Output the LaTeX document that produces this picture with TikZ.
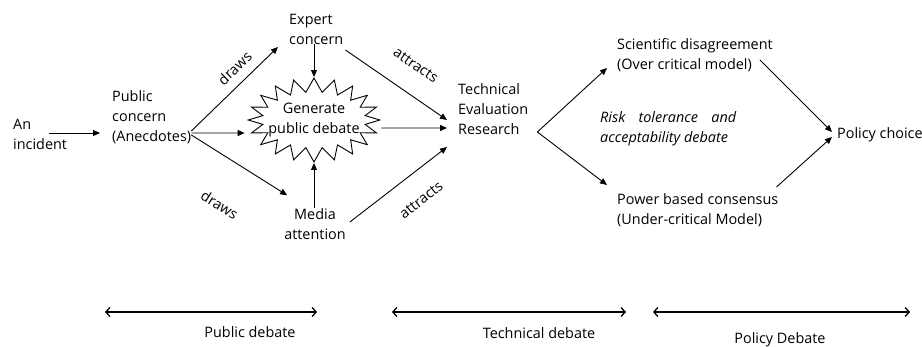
\documentclass[tikz,border=0pt]{standalone}
\usepackage{fontspec}
\setmainfont{Open Sans}
\usetikzlibrary{arrows.meta,positioning,shapes.symbols}

\begin{document}
\begin{tikzpicture}[
  x=1pt, y=-1pt,
  txt/.style={inner sep=0pt, font=\fontsize{14.4}{20}\selectfont, align=left, anchor=west},
  lbl/.style={inner sep=0pt, font=\fontsize{14.4}{20}\selectfont, sloped},
  arr/.style={-{Triangle[length=7pt,width=6pt]}, line width=0.9pt},
  span/.style={{Straight Barb[length=4pt,width=9pt]}-{Straight Barb[length=4pt,width=9pt]}, line width=1.3pt}
]
\useasboundingbox (0,0) rectangle (922,347);
\node[txt] (inc) at (13,134) {An\\incident};
\node[txt] (pubc) at (112,117) {Public\\concern\\(Anecdotes)};
\node[txt] (expc) at (289,29) {Expert\\concern};
\node[starburst, draw, line width=0.9pt, starburst points=20, starburst point height=14pt,
      random starburst=0, minimum height=84pt, inner xsep=-9pt, inner ysep=0pt,
      font=\fontsize{14.4}{20}\selectfont, align=center] (burst) at (314,120) {Generate\\public debate};
\node[txt, align=center, anchor=center] (media) at (315,224) {Media\\attention};
\node[txt] (tech) at (458,109) {Technical\\Evaluation\\Research};
\node[txt] (sci) at (617,55) {Scientific disagreement\\(Over critical model)};
\node[txt, font=\fontsize{14.4}{20}\selectfont\itshape] (risk) at (600,129)
  {\makebox[136pt][s]{Risk tolerance and}\\acceptability debate};
\node[txt] (pow) at (617,210) {Power based consensus\\(Under-critical Model)};
\node[txt] (pol) at (837,135) {Policy choice};

\draw[arr] ([xshift=-18pt,yshift=1pt]inc.east) -- ([xshift=-12pt,yshift=-16pt]pubc.west);
\draw[arr] ([yshift=-14pt]pubc.east) -- node[lbl, above=9pt, pos=0.62] {draws} ([xshift=-11pt,yshift=-18pt]expc.west);
\draw[arr] ([yshift=-16pt]pubc.east) -- ([xshift=-2pt,yshift=-13pt]burst.west);
\draw[arr] ([yshift=-18pt]pubc.east) -- node[lbl, below=38pt, pos=0.54] {draws} ([xshift=3pt,yshift=13pt]media.north west);
\draw[arr] (expc.south -| burst.north) -- (burst.north);
\draw[arr] (media.north -| burst.south) -- (burst.south);

\draw[arr] ([xshift=2pt,yshift=-21pt]expc.east) -- node[lbl, above=22pt, pos=0.54] {attracts} ([xshift=-11pt,yshift=-11pt]tech.west);
\draw[arr] ([yshift=-8pt]burst.east) -- ([xshift=-11pt,yshift=-19pt]tech.west);
\draw[arr] ([xshift=4pt,yshift=2pt]media.east) -- node[lbl, below=21pt, pos=0.57] {attracts} ([xshift=-11pt,yshift=-38pt]tech.west);

\draw[arr] ([xshift=9pt,yshift=-23pt]tech.east) -- ([xshift=-10pt,yshift=-13pt]sci.west);
\draw[arr] ([xshift=9pt,yshift=-23pt]tech.east) -- ([xshift=-10pt,yshift=25pt]pow.west);
\draw[arr] ([xshift=-13pt,yshift=-5pt]sci.east) -- ([xshift=-5pt,yshift=3pt]pol.west);
\draw[arr] ([xshift=-2pt,yshift=23pt]pow.east) -- ([xshift=-5pt,yshift=-2pt]pol.west);

% debate stages along the bottom
\node[txt, anchor=center] (pubd) at (250,332) {Public debate};
\node[txt, anchor=center] (techd) at (539,333) {Technical debate};
\node[txt, anchor=center] (pold) at (780,340) {Policy Debate};
\coordinate (pubdL) at (105,312);  \coordinate (pubdR) at (317,312);
\coordinate (techdL) at (392,312); \coordinate (techdR) at (626,312);
\coordinate (poldL) at (653,312);  \coordinate (poldR) at (910,312);
\draw[span] (pubdL) -- (pubdR);
\draw[span] (techdL) -- (techdR);
\draw[span] (poldL) -- (poldR);
\end{tikzpicture}
\end{document}
